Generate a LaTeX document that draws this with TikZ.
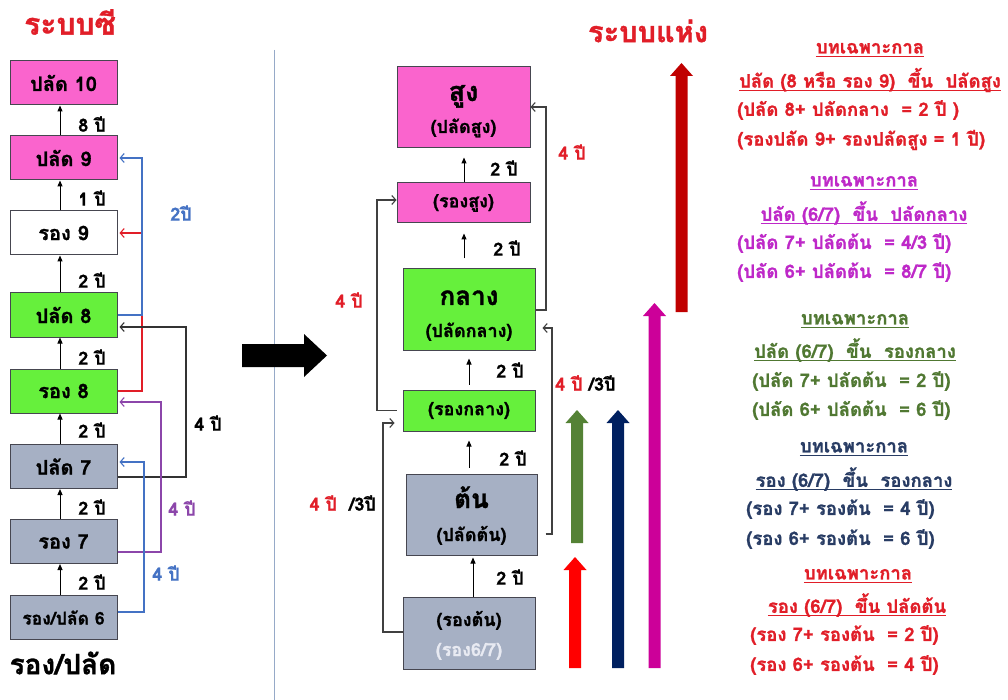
\documentclass[tikz,border=0pt]{standalone}
\usepackage{fontspec}
\newfontfamily\thai[Script=Thai, BoldFeatures={FakeBold=1.2}]{Loma}
\usetikzlibrary{arrows.meta,calc}

\definecolor{pinkbox}{RGB}{250,100,205}
\definecolor{greenbox}{RGB}{102,240,60}
\definecolor{graybox}{RGB}{166,176,196}
\definecolor{boxline}{RGB}{70,70,80}
\definecolor{titlered}{RGB}{225,30,40}
\definecolor{darkred}{RGB}{192,0,0}
\definecolor{arrmag}{RGB}{204,0,153}
\definecolor{arrnavy}{RGB}{0,32,96}
\definecolor{arrgreen}{RGB}{84,130,53}
\definecolor{arrred}{RGB}{255,0,0}
\definecolor{linkblue}{RGB}{68,114,196}
\definecolor{linkpurple}{RGB}{140,70,170}
\definecolor{txtpurple}{RGB}{190,40,200}
\definecolor{txtgreen}{RGB}{80,120,50}
\definecolor{txtnavy}{RGB}{40,60,100}
\definecolor{sepline}{RGB}{150,170,200}
\definecolor{paletxt}{RGB}{232,234,242}

% upward block arrow: colour, centre x, bottom y, tip y
\newcommand{\upblock}[4]{%
  \fill[#1] (#2-6,#3) -- (#2-6,#4+13) -- (#2-11.5,#4+13) -- (#2,#4)
    -- (#2+11.5,#4+13) -- (#2+6,#4+13) -- (#2+6,#3) -- cycle;}

% heavier underline for the heading lines
\newcommand{\uline}[1]{\setbox0\hbox{#1}%
  \leavevmode\rlap{\raisebox{-3.5pt}{\rule{\wd0}{1.3pt}}}\box0}

\tikzset{
  thaib/.style={font={\thai\bfseries\fontsize{#1}{#1}\selectfont}},
  lbox/.style={draw=boxline, line width=1pt, inner sep=0pt,
    minimum width=107pt, minimum height=44pt, thaib=20},
  mbox/.style={draw=boxline, line width=1pt, inner sep=0pt},
  yrs/.style={thaib=18, inner sep=0pt},
  uparr/.style={-{Triangle[length=6pt,width=5pt]}, line width=1pt, black},
  link/.style={-{Straight Barb[length=4pt,width=9pt]}, line width=1.1pt},
  note/.style={thaib=18.5, inner sep=0pt},
}

\begin{document}
\begin{tikzpicture}[x=1pt,y=-1pt]
\useasboundingbox (0,0) rectangle (1008,700);
\fill[white] (0,0) rectangle (1008,700);

% ---------- left: old C-level ladder ----------
\node[thaib=30, text=titlered, inner sep=0pt] (ttlc) at (70,22) {ระบบซี};

\node[lbox, fill=pinkbox]  (p10) at (63.5,83)    {ปลัด 10};
\node[lbox, fill=pinkbox]  (p9)  at (63.5,158)   {ปลัด 9};
\node[lbox, fill=white]    (r9)  at (63.5,233)   {รอง 9};
\node[lbox, fill=greenbox] (p8)  at (63.5,315)   {ปลัด 8};
\node[lbox, fill=greenbox] (r8)  at (63.5,391)   {รอง 8};
\node[lbox, fill=graybox]  (p7)  at (63.5,466.5) {ปลัด 7};
\node[lbox, fill=graybox]  (r7)  at (63.5,541.5) {รอง 7};
\node[lbox, fill=graybox, thaib=17.5] (s6) at (63.5,617.5) {รอง/ปลัด 6};
\node[thaib=28, inner sep=0pt] (rp) at (63,663) {รอง/ปลัด};

\coordinate (lx) at (60,0);
\draw[uparr] (p9.north -| lx) -- (p10.south -| lx);
\draw[uparr] (r9.north -| lx) -- (p9.south -| lx);
\draw[uparr] (p8.north -| lx) -- (r9.south -| lx);
\draw[uparr] (r8.north -| lx) -- (p8.south -| lx);
\draw[uparr] (p7.north -| lx) -- (r8.south -| lx);
\draw[uparr] (r7.north -| lx) -- (p7.south -| lx);
\draw[uparr] (s6.north -| lx) -- (r7.south -| lx);

\node[yrs] at (92,124) {8 ปี};
\node[yrs] at (92,198) {1 ปี};
\node[yrs] at (92,280) {2 ปี};
\node[yrs] at (92,357) {2 ปี};
\node[yrs] at (92,430) {2 ปี};
\node[yrs] at (92,507) {2 ปี};
\node[yrs] at (92,582) {2 ปี};

% skip connectors
\draw[link, titlered] (r8.east) -- (142,391) |- ([xshift=2pt]r9.east);
\draw[link, linkblue] (p8.east) -- (142,315) |- ([xshift=2pt]p9.east);
\draw[link, black!80] ($(p7.east)+(0,10.5)$) -- (186,477) |- ($(p8.east)+(2,12)$);
\draw[link, linkpurple] ($(r7.east)+(0,10.5)$) -- (161,552) |- ($(r8.east)+(2,11)$);
\draw[link, linkblue] ($(s6.east)+(0,-5.5)$) -- (144,612) |- ($(p7.east)+(2,-4.5)$);

\node[yrs, text=linkblue] at (181,213) {2ปี};
\node[yrs] at (208,423) {4 ปี};
\node[yrs, text=linkpurple] at (182,508) {4 ปี};
\node[yrs, text=linkblue] at (166,573) {4 ปี};

% divider and transition arrow
\draw[sepline, line width=0.9pt] (274,50) -- (274,700);
\fill[black] (242,344) -- (304,344) -- (304,334) -- (327,355.5)
  -- (304,377) -- (304,367) -- (242,367) -- cycle;

% ---------- middle: new position ladder ----------
\node[mbox, fill=pinkbox,  minimum width=133pt, minimum height=81pt] (hi)  at (463.5,107.5) {};
\node[mbox, fill=pinkbox,  minimum width=133pt, minimum height=40pt] (rhi) at (463.5,203)   {};
\node[mbox, fill=greenbox, minimum width=132pt, minimum height=81pt] (md)  at (469,309.5)   {};
\node[mbox, fill=greenbox, minimum width=132pt, minimum height=41pt] (rmd) at (469,410.5)   {};
\node[mbox, fill=graybox,  minimum width=131pt, minimum height=81pt] (lo)  at (471.5,514.5) {};
\node[mbox, fill=graybox,  minimum width=132pt, minimum height=72pt] (rlo) at (469,633)     {};

\node[thaib=27, anchor=base, inner sep=0pt] at ($(hi.center)+(0,-6.5)$)  {สูง};
\node[thaib=18, anchor=base, inner sep=0pt] at ($(hi.center)+(0,25.5)$) {(ปลัดสูง)};
\node[thaib=18, inner sep=0pt] at (rhi.center) {(รองสูง)};
\node[thaib=26, anchor=base, inner sep=0pt] at ($(md.center)+(0,-4.5)$)  {กลาง};
\node[thaib=18, anchor=base, inner sep=0pt] at ($(md.center)+(0,27.5)$) {(ปลัดกลาง)};
\node[thaib=18, inner sep=0pt] at (rmd.center) {(รองกลาง)};
\node[thaib=26, anchor=base, inner sep=0pt] at ($(lo.center)+(0,-6.5)$)  {ต้น};
\node[thaib=18, anchor=base, inner sep=0pt] at ($(lo.center)+(0,26.5)$) {(ปลัดต้น)};
\node[thaib=18, anchor=base, inner sep=0pt] at ($(rlo.center)+(0,-7)$) {(รองต้น)};
\node[thaib=18, anchor=base, inner sep=0pt, text=paletxt] at ($(rlo.center)+(0,23)$) {(รอง6/7)};

\coordinate (ma) at (473,0);
\coordinate (mb) at (469,0);
\coordinate (mc) at (464,0);
\draw[uparr, shorten >=2pt] (rlo.north -| ma) -- (lo.south -| ma);
\draw[uparr, shorten <=6pt, shorten >=9pt] (lo.north -| mb) -- (rmd.south -| mb);
\draw[uparr, shorten <=5pt, shorten >=8pt] (rmd.north -| mb) -- (md.south -| mb);
\draw[uparr, shorten <=10pt, shorten >=10pt] (md.north -| mc) -- (rhi.south -| mc);
\draw[uparr, shorten >=9pt] (rhi.north -| mc) -- (hi.south -| mc);

\node[yrs] at (504,168) {2 ปี};
\node[yrs] at (507,248) {2 ปี};
\node[yrs] at (510,370) {2 ปี};
\node[yrs] at (513,458) {2 ปี};
\node[yrs] at (510,577) {2 ปี};

% double-step connectors
\draw[link, black!75] (md.east |- 0,310) -- (546,310) |- (hi.east |- 0,107);
\draw[link, black!75, shorten <=6pt] (rmd.west) -- (377,410.5) |- (rhi.west |- 0,200);
\draw[link, black!75, shorten <=8pt, shorten >=7pt] (lo.east |- 0,534) -- (552,534) |- (md.east |- 0,328);
\draw[link, black!75, shorten >=8pt] (rlo.west |- 0,632) -- (383,632) |- (rmd.west |- 0,423);

\node[yrs, text=titlered] at (349,300) {4 ปี};
\node[yrs, text=titlered] at (572,152) {4 ปี};
\node[yrs, anchor=east] at (376,503) {\textcolor{titlered}{4 ปี}\ \ /3ปี};
\node[yrs, anchor=west] at (555,383) {\textcolor{titlered}{4 ปี}\ /3ปี};

% ---------- right: transition routes ----------
\node[thaib=29, text=titlered, inner sep=0pt] (ttlp) at (648,31) {ระบบแห่ง};

\upblock{darkred}{681.5}{312}{63}
\upblock{arrmag}{654.5}{668}{303}
\upblock{arrnavy}{618}{668}{410}
\upblock{arrgreen}{577}{543}{410}
\upblock{arrred}{575}{668}{557}

\node[note, text=titlered] at (870,50) {\uline{บทเฉพาะกาล}};
\node[note, text=titlered] at (870,80) {\uline{ปลัด (8 หรือ รอง 9)\ \ ขึ้น\ \ ปลัดสูง}};
\node[note, text=titlered, anchor=west] at (737,110) {(ปลัด 8+ ปลัดกลาง\ \ = 2 ปี )};
\node[note, text=titlered, anchor=west] at (737,140) {(รองปลัด 9+ รองปลัดสูง = 1 ปี)};

\node[note, text=txtpurple] at (864,183) {\uline{บทเฉพาะกาล}};
\node[note, text=txtpurple] at (864,213) {\uline{ปลัด (6/7)\ \ ขึ้น\ \ ปลัดกลาง}};
\node[note, text=txtpurple, anchor=west] at (737,243) {(ปลัด 7+ ปลัดต้น\ \ = 4/3 ปี)};
\node[note, text=txtpurple, anchor=west] at (737,272) {(ปลัด 6+ ปลัดต้น\ \ = 8/7 ปี)};

\node[note, text=txtgreen] at (855,321) {\uline{บทเฉพาะกาล}};
\node[note, text=txtgreen] at (855,350) {\uline{ปลัด (6/7)\ \ ขึ้น\ \ รองกลาง}};
\node[note, text=txtgreen, anchor=west] at (752,381) {(ปลัด 7+ ปลัดต้น\ \ = 2 ปี)};
\node[note, text=txtgreen, anchor=west] at (752,410) {(ปลัด 6+ ปลัดต้น\ \ = 6 ปี)};

\node[note, text=txtnavy] at (854,449) {\uline{บทเฉพาะกาล}};
\node[note, text=txtnavy] at (854,479) {\uline{รอง (6/7)\ \ ขึ้น\ \ รองกลาง}};
\node[note, text=txtnavy, anchor=west] at (746,509) {(รอง 7+ รองต้น\ \ = 4 ปี)};
\node[note, text=txtnavy, anchor=west] at (746,539) {(รอง 6+ รองต้น\ \ = 6 ปี)};

\node[note, text=titlered] at (858,576) {\uline{บทเฉพาะกาล}};
\node[note, text=titlered] at (857,605) {\uline{รอง (6/7)\ \ ขึ้น ปลัดต้น}};
\node[note, text=titlered, anchor=west] at (750,635) {(รอง 7+ รองต้น\ \ = 2 ปี)};
\node[note, text=titlered, anchor=west] at (750,665) {(รอง 6+ รองต้น\ \ = 4 ปี)};
\end{tikzpicture}
\end{document}
